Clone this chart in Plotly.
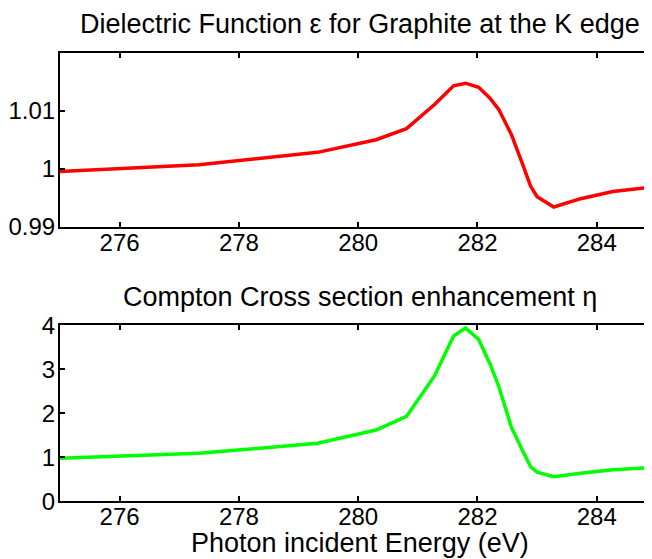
import plotly.graph_objects as go

# Photon incident energy (eV)
energy = [275.0, 277.33, 279.32, 280.30, 280.81, 281.28, 281.60, 281.80, 282.02,
          282.21, 282.36, 282.57, 282.75, 282.89, 283.00, 283.28, 283.73, 284.27,
          285.0]
# Dielectric function epsilon
epsilon = [0.99955, 1.00074, 1.00286, 1.00503, 1.00695, 1.0111, 1.01434, 1.01478,
           1.01407, 1.0122, 1.0102, 1.0059, 1.0010, 0.99705, 0.9952, 0.99343,
           0.99487, 0.99611, 0.99695]
# Compton cross section enhancement eta
eta = [0.98, 1.09, 1.32, 1.62, 1.93, 2.85, 3.76, 3.94, 3.68, 3.13, 2.60, 1.68,
       1.17, 0.79, 0.66, 0.56, 0.64, 0.72, 0.77]

title_top = "Dielectric Function \u03b5 for Graphite at the K edge"
title_bottom = "Compton Cross section enhancement \u03b7"
xlabel = "Photon incident Energy (eV)"
xticks = [276, 278, 280, 282, 284]
yticks_top = [0.99, 1.0, 1.01]
yticks_top_text = ["0.99", "1", "1.01"]
yticks_bottom = [0, 1, 2, 3, 4]

OFF = 8
W, H = 648, 559 - OFF
FONT = "Liberation Sans, Arial, sans-serif"

fig = go.Figure()
fig.add_trace(go.Scatter(x=energy, y=epsilon, mode="lines",
                         line=dict(color="#ff0000", width=3.5),
                         xaxis="x", yaxis="y", showlegend=False))
fig.add_trace(go.Scatter(x=energy, y=eta, mode="lines",
                         line=dict(color="#00ff00", width=3.5),
                         xaxis="x2", yaxis="y2", showlegend=False))

axis_common = dict(showline=True, linecolor="black", linewidth=2, mirror="ticks",
                   ticks="inside", ticklen=5, tickwidth=2, tickcolor="black",
                   showgrid=False, zeroline=False,
                   tickfont=dict(family=FONT, size=24, color="black"))
xaxis_common = dict(axis_common, ticklabelstandoff=-7)
yaxis_common = dict(axis_common, ticklabelstandoff=-2)

def ydom(top_px, bot_px):
    return [1 - (bot_px - OFF) / H, 1 - (top_px - OFF) / H]

def ypos(px):
    return 1 - (px - OFF) / H

fig.update_layout(
    width=W, height=H,
    margin=dict(l=46, r=0, t=0, b=0),
    paper_bgcolor="white", plot_bgcolor="white",
    xaxis=dict(domain=[0, 1], range=[275, 284.96], tickvals=xticks,
               anchor="y", **xaxis_common),
    yaxis=dict(domain=ydom(40.5, 223.5), range=[0.99, 1.02],
               tickvals=yticks_top, ticktext=yticks_top_text,
               anchor="x", **yaxis_common),
    xaxis2=dict(domain=[0, 1], range=[275, 284.96], tickvals=xticks,
                anchor="y2", **xaxis_common),
    yaxis2=dict(domain=ydom(327, 512), range=[0, 4], tickvals=yticks_bottom,
                anchor="x2", **yaxis_common),
    annotations=[
        dict(text=title_top, xref="paper", yref="paper", x=0.505, y=ypos(10),
             xanchor="center", yanchor="middle", showarrow=False,
             font=dict(family=FONT, size=27, color="black")),
        dict(text=title_bottom, xref="paper", yref="paper", x=0.505, y=ypos(297),
             xanchor="center", yanchor="middle", showarrow=False,
             font=dict(family=FONT, size=27, color="black")),
        dict(text=xlabel, xref="paper", yref="paper", x=0.505, y=ypos(556),
             xanchor="center", yanchor="middle", showarrow=False,
             font=dict(family=FONT, size=27, color="black")),
    ],
)

fig.write_html("out.html")
